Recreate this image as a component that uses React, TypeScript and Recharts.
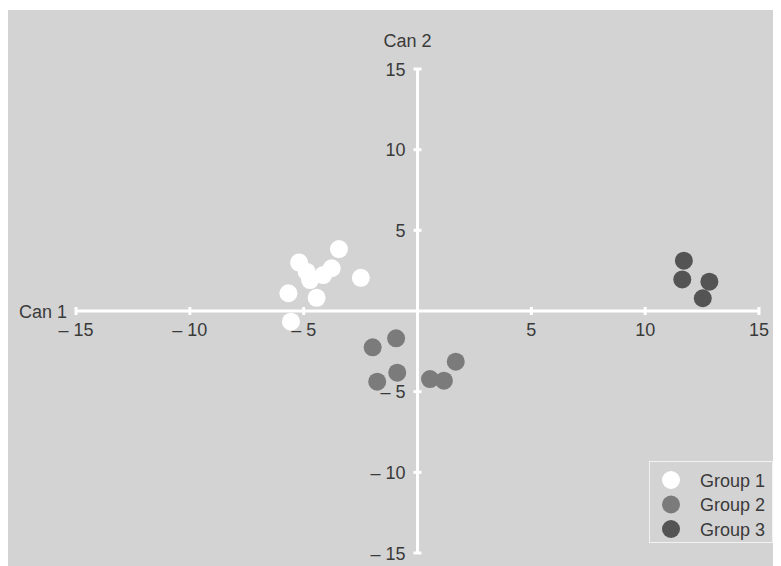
import React from 'react';
import { ScatterChart, Scatter, XAxis, YAxis, ReferenceLine } from 'recharts';

const group1 = [
  { x: -5.2, y: 3.0 }, { x: -4.87, y: 2.44 }, { x: -4.72, y: 1.92 }, { x: -4.14, y: 2.23 },
  { x: -3.77, y: 2.65 }, { x: -3.45, y: 3.84 }, { x: -2.49, y: 2.06 }, { x: -5.67, y: 1.1 },
  { x: -4.43, y: 0.82 }, { x: -5.56, y: -0.66 },
];
const group2 = [
  { x: -1.97, y: -2.25 }, { x: -0.94, y: -1.69 }, { x: -1.77, y: -4.38 }, { x: -0.89, y: -3.82 },
  { x: 0.55, y: -4.22 }, { x: 1.16, y: -4.32 }, { x: 1.68, y: -3.14 },
];
const group3 = [
  { x: 11.7, y: 3.12 }, { x: 11.63, y: 1.96 }, { x: 12.82, y: 1.82 }, { x: 12.53, y: 0.79 },
];
const groupNames = ['Group 1', 'Group 2', 'Group 3'];
const groupColors = ['#ffffff', '#7b7b7b', '#545454'];
const xTicks = [-15, -10, -5, 5, 10, 15];
const yTicks = [15, 10, 5, -5, -10, -15];
const xTitle = 'Can 1';
const yTitle = 'Can 2';

const fmt = (v: number) => (v < 0 ? `\u2013 ${Math.abs(v)}` : `${v}`);
const TEXT = '#3a3a3a';
const BG = '#d3d3d3';
const FONT = 'Liberation Sans, Arial, sans-serif';

const xTickData = xTicks.map((t) => ({ x: t, y: 0, label: fmt(t) }));
const yTickData = yTicks.map((t) => ({ x: 0, y: t, label: fmt(t) }));

const XTickShape = (p: any) => (
  <g>
    <line x1={p.cx} x2={p.cx} y1={p.cy - 4} y2={p.cy + 4} stroke="#fff" strokeWidth={3} />
    <text x={p.cx} y={p.cy + 25} textAnchor="middle" fontSize={18} fill={TEXT} fontFamily={FONT}>
      {p.payload.label}
    </text>
  </g>
);
const YTickShape = (p: any) => (
  <g>
    <line x1={p.cx - 4} x2={p.cx + 4} y1={p.cy} y2={p.cy} stroke="#fff" strokeWidth={3} />
    <text x={p.cx - 12} y={p.cy + 6.5} textAnchor="end" fontSize={18} fill={TEXT} fontFamily={FONT}>
      {p.payload.label}
    </text>
  </g>
);
const dot = (color: string) => (p: any) => <circle cx={p.cx} cy={p.cy} r={9} fill={color} />;

const groups = [group1, group2, group3];

export default function App() {
  return (
    <div style={{ width: 773, height: 558, fontFamily: FONT }}>
      <div style={{ marginTop: 2, width: 773, height: 556, background: BG, position: 'relative' }}>
        <ScatterChart width={773} height={556} margin={{ top: 59, right: 22, bottom: 13, left: 68 }}>
          <XAxis type="number" dataKey="x" domain={[-15, 15]} hide />
          <YAxis type="number" dataKey="y" domain={[-15, 15]} hide />
          <ReferenceLine
            y={0}
            stroke="#fff"
            strokeWidth={3}
            label={(lp: any) => (
              <text x={lp.viewBox.x - 9} y={lp.viewBox.y + 7} textAnchor="end" fontSize={18} fill={TEXT} fontFamily={FONT}>
                {xTitle}
              </text>
            )}
          />
          <ReferenceLine
            x={0}
            stroke="#fff"
            strokeWidth={3}
            label={(lp: any) => (
              <text x={lp.viewBox.x - 10} y={lp.viewBox.y - 22} textAnchor="middle" fontSize={18} fill={TEXT} fontFamily={FONT}>
                {yTitle}
              </text>
            )}
          />
          <Scatter data={xTickData} shape={XTickShape} isAnimationActive={false} legendType="none" />
          <Scatter data={yTickData} shape={YTickShape} isAnimationActive={false} legendType="none" />
          {groups.map((g, i) => (
            <Scatter key={groupNames[i]} name={groupNames[i]} data={g} shape={dot(groupColors[i])} isAnimationActive={false} />
          ))}
        </ScatterChart>
        <svg width={124} height={82} style={{ position: 'absolute', left: 641, top: 451 }}>
          <rect x={0.5} y={0.5} width={123} height={81} fill="none" stroke="#f2f2f2" strokeWidth={1} />
          {groupNames.map((n, i) => (
            <g key={n}>
              <circle cx={22} cy={19 + 24.5 * i} r={9} fill={groupColors[i]} />
              <text x={51} y={19 + 24.5 * i + 6.5} fontSize={18} fill={TEXT} fontFamily={FONT}>
                {n}
              </text>
            </g>
          ))}
        </svg>
      </div>
    </div>
  );
}
